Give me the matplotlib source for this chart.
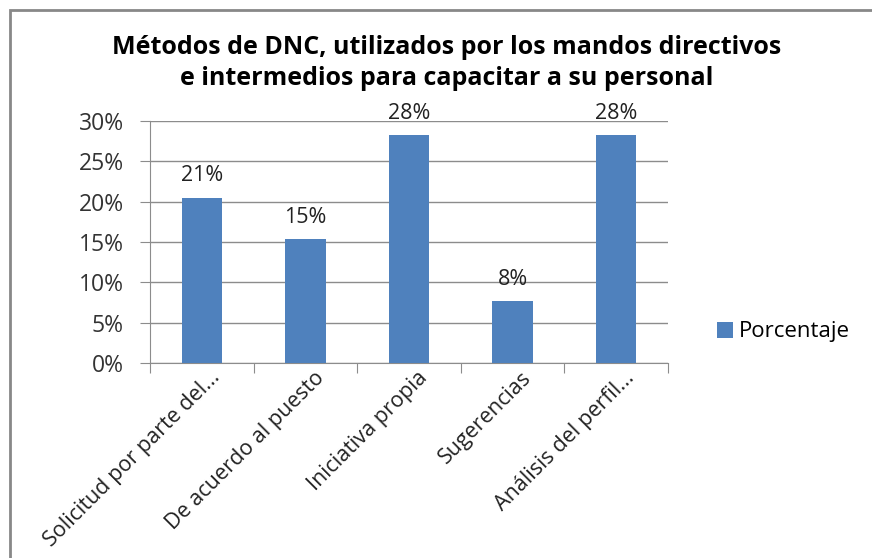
import matplotlib.pyplot as plt
import matplotlib.transforms as mtransforms
from matplotlib.patches import Rectangle

# Data
categorias = ['Solicitud por parte del...', 'De acuerdo al puesto', 'Iniciativa propia',
              'Sugerencias', 'Análisis del perfil...']
porcentaje = [20.51, 15.38, 28.21, 7.69, 28.21]
yticks = [0, 5, 10, 15, 20, 25, 30]
titulo = 'Métodos de DNC, utilizados por los mandos directivos\ne intermedios para capacitar a su personal'

plt.rcParams['font.family'] = ['Open Sans', 'DejaVu Sans']

fig = plt.figure(figsize=(8.72, 5.58), dpi=100)
ax = fig.add_axes([150/872, 1-363/558, 518/872, 242/558])

x = list(range(len(categorias)))
bars = ax.bar(x, porcentaje, width=0.39, color='#4F81BD', zorder=3, label='Porcentaje')

for xi, v in zip(x, porcentaje):
    ax.annotate(f'{v:.0f}%', (xi, v), xytext=(0, 8), textcoords='offset points',
                ha='center', va='bottom', fontsize=15.5, color='#222222')

ax.set_xlim(-0.5, len(categorias) - 0.5)
ax.set_ylim(0, 30)
ax.set_yticks(yticks)
ax.set_yticklabels([f'{t}%' for t in yticks], fontsize=16.5, color='#333333')
ax.yaxis.grid(True, color='#8c8c8c', linewidth=1, zorder=0)

# category boundary ticks, labels drawn as rotated text
ax.set_xticks([i - 0.5 for i in range(len(categorias) + 1)])
ax.set_xticklabels([''] * (len(categorias) + 1))
ax.tick_params(axis='x', length=7, color='#8c8c8c', direction='out')
ax.tick_params(axis='y', length=7, color='#8c8c8c', pad=12)

lab_trans = mtransforms.offset_copy(ax.get_xaxis_transform(), fig=fig, x=8, y=-4, units='dots')
for xi, c in zip(x, categorias):
    ax.text(xi, 0, c, transform=lab_trans, rotation=45, ha='right', va='top',
            rotation_mode='anchor', fontsize=15.5, color='#222222')

for s in ['top', 'right']:
    ax.spines[s].set_visible(False)
for s in ['left', 'bottom']:
    ax.spines[s].set_color('#8c8c8c')

fig.text(447/872, 1-63/558, titulo, ha='center', va='center', fontsize=18,
         fontweight='bold', linespacing=1.35)

fig.legend(handles=[bars], labels=['Porcentaje'], loc='center left',
           bbox_to_anchor=(697/872, 1-332/558), frameon=False, fontsize=16,
           handlelength=0.7, handleheight=0.7, handletextpad=0.3)

fig.patches.append(Rectangle((10/872, -0.1), 1.2, 1 - 10/558 + 0.1, transform=fig.transFigure,
                             fill=False, edgecolor='#888888', linewidth=2))

fig.savefig('out.png', dpi=100)
